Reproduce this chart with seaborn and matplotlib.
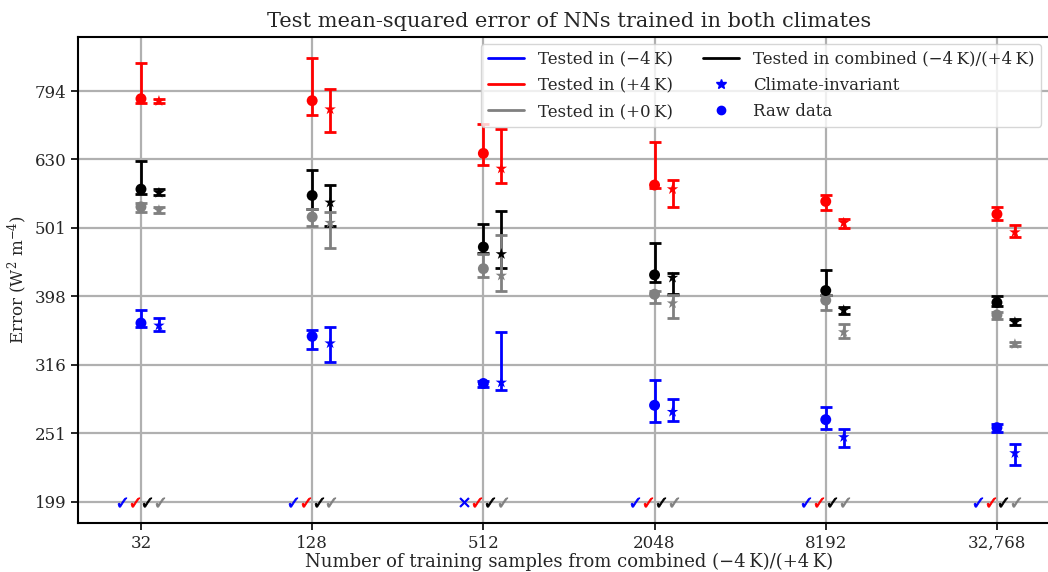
import numpy as np
import pandas as pd
import matplotlib
matplotlib.use("Agg")
import matplotlib.pyplot as plt
from matplotlib.lines import Line2D
import seaborn as sns

# Data (errors in W^2 m^-4)
n_samples = [32, 128, 512, 2048, 8192, 32768]
tick_labels = ["32", "128", "512", "2048", "8192", "32,768"]

# raw-data NNs: median, lower, upper
raw_m4 = [364, 348, 297, 276, 263, 256]
raw_m4_lo = [359, 333, 294, 261, 255, 252]
raw_m4_hi = [380, 355, 300, 301, 274, 259]
raw_p4 = [774, 769, 644, 579, 548, 525]
raw_p4_lo = [763, 733, 619, 574, 532, 515]
raw_p4_hi = [872, 887, 712, 669, 560, 538]
raw_p0 = [538, 520, 437, 401, 393, 374]
raw_p0_lo = [528, 504, 425, 390, 380, 369]
raw_p0_hi = [545, 535, 459, 405, 400, 378]
raw_comb = [571, 559, 470, 428, 406, 390]
raw_comb_lo = [562, 535, 460, 418, 400, 385]
raw_comb_hi = [628, 610, 508, 477, 435, 398]

# climate-invariant NNs: median, lower, upper
ci_m4 = [361, 340, 298, 270, 248, 235]
ci_m4_lo = [354, 319, 291, 262, 240, 226]
ci_m4_hi = [370, 359, 353, 282, 255, 242]
ci_p4 = [768, 747, 612, 571, 510, 494]
ci_p4_lo = [764, 692, 582, 537, 501, 486]
ci_p4_hi = [773, 799, 700, 588, 517, 507]
ci_p0 = [532, 510, 427, 389, 353, 339]
ci_p0_lo = [527, 468, 406, 370, 346, 337]
ci_p0_hi = [537, 528, 490, 400, 363, 341]
ci_comb = [564, 546, 459, 424, 380, 365]
ci_comb_lo = [560, 505, 438, 402, 375, 361]
ci_comb_hi = [571, 580, 530, 431, 384, 369]

# significance marks at the bottom (True = check, False = cross)
sig_m4 = [True, True, False, True, True, True]
sig_p4 = [True, True, True, True, True, True]
sig_comb = [True, True, True, True, True, True]
sig_p0 = [True, True, True, True, True, True]

colors = {"m4": "#0000ff", "p4": "#ff0000", "p0": "#808080", "comb": "#000000"}


def build_frame():
    rows = []
    series = {
        ("raw", "m4"): (raw_m4, raw_m4_lo, raw_m4_hi),
        ("raw", "p4"): (raw_p4, raw_p4_lo, raw_p4_hi),
        ("raw", "p0"): (raw_p0, raw_p0_lo, raw_p0_hi),
        ("raw", "comb"): (raw_comb, raw_comb_lo, raw_comb_hi),
        ("ci", "m4"): (ci_m4, ci_m4_lo, ci_m4_hi),
        ("ci", "p4"): (ci_p4, ci_p4_lo, ci_p4_hi),
        ("ci", "p0"): (ci_p0, ci_p0_lo, ci_p0_hi),
        ("ci", "comb"): (ci_comb, ci_comb_lo, ci_comb_hi),
    }
    for (model, test), (med, lo, hi) in series.items():
        for n, m, l, h in zip(n_samples, med, lo, hi):
            rows.append({"n": n, "model": model, "test": test,
                         "err": m, "lo": l, "hi": h})
    df = pd.DataFrame(rows)
    # climate-invariant points sit slightly right of the raw ones (log2 axis)
    df["xpos"] = df["n"] * np.where(df["model"] == "ci", 2 ** 0.21, 1.0)
    return df


sns.set_style("ticks")
plt.rcParams["font.family"] = ["DejaVu Serif"]
plt.rcParams["mathtext.fontset"] = "dejavuserif"
plt.rcParams["font.size"] = 12

df = build_frame()

fig = plt.figure(figsize=(10.48, 5.72), dpi=100)
ax = fig.add_axes([0.0744, 0.0857, 0.937, 0.8497])

ax.grid(True, color="#b0b0b0", linewidth=1.6, zorder=0)
ax.set_axisbelow(True)

for test in ["m4", "p4", "comb", "p0"]:
    for model in ["raw", "ci"]:
        sub = df[(df["test"] == test) & (df["model"] == model)]
        ax.errorbar(sub["xpos"], sub["err"],
                    yerr=[sub["err"] - sub["lo"], sub["hi"] - sub["err"]],
                    fmt="none", ecolor=colors[test], elinewidth=2,
                    capsize=4, capthick=2, zorder=3)

sns.scatterplot(data=df, x="xpos", y="err", hue="test", style="model",
                palette=colors, markers={"raw": "o", "ci": "*"},
                size="model", sizes={"raw": 62, "ci": 75},
                edgecolor="none", legend=False, ax=ax, zorder=4)

# significance marks along the bottom gridline
sig = {"m4": sig_m4, "p4": sig_p4, "comb": sig_comb, "p0": sig_p0}
offsets = {"m4": -0.225, "p4": -0.075, "comb": 0.075, "p0": 0.225}
for test in ["m4", "p4", "comb", "p0"]:
    for n, ok in zip(n_samples, sig[test]):
        ax.scatter(n * 2 ** offsets[test], 10 ** 2.3,
                   marker=r"$\checkmark$" if ok else r"$\times$",
                   s=45, color=colors[test], linewidths=0.6,
                   edgecolors=colors[test], zorder=4)

ax.set_xscale("log", base=2)
ax.set_yscale("log")
ax.set_xlim(2 ** 4.264, 2 ** 15.736)
ax.set_ylim(10 ** 2.269, 10 ** 2.979)

ax.set_xticks(n_samples)
ax.set_xticklabels(tick_labels)
ax.xaxis.set_minor_locator(matplotlib.ticker.NullLocator())
yticks = [10 ** k for k in [2.3, 2.4, 2.5, 2.6, 2.7, 2.8, 2.9]]
ax.set_yticks(yticks)
ax.set_yticklabels([str(int(v)) for v in yticks])
ax.yaxis.set_minor_locator(matplotlib.ticker.NullLocator())
ax.tick_params(axis="both", labelsize=12, length=5, width=1.2, color="black")
for spine in ax.spines.values():
    spine.set_color("black")
    spine.set_linewidth(1.5)

ax.set_title("Test mean-squared error of NNs trained in both climates",
             fontsize=15, pad=7)
ax.set_xlabel("Number of training samples from combined (\u22124\u2009K)/(+4\u2009K)",
              fontsize=13, labelpad=1)
ax.set_ylabel(r"Error (W$^2$ m$^{-4}$)", fontsize=12, labelpad=4)

handles = [
    Line2D([], [], color=colors["m4"], lw=2, label="Tested in (\u22124\u2009K)"),
    Line2D([], [], color=colors["p4"], lw=2, label="Tested in (+4\u2009K)"),
    Line2D([], [], color=colors["p0"], lw=2, label="Tested in (+0\u2009K)"),
    Line2D([], [], color=colors["comb"], lw=2,
           label="Tested in combined (\u22124\u2009K)/(+4\u2009K)"),
    Line2D([], [], color=colors["m4"], marker="*", ls="none", markersize=7,
           label="Climate-invariant"),
    Line2D([], [], color=colors["m4"], marker="o", ls="none", markersize=6,
           label="Raw data"),
]
ax.legend(handles=handles, ncol=2, loc="upper left", fontsize=12,
          bbox_to_anchor=(481 / 1048, 1 - 44 / 572),
          bbox_transform=fig.transFigure, borderaxespad=0,
          framealpha=0.8, handlelength=2.2, labelspacing=0.55,
          columnspacing=1.8)

fig.savefig("out.png", dpi=100)
